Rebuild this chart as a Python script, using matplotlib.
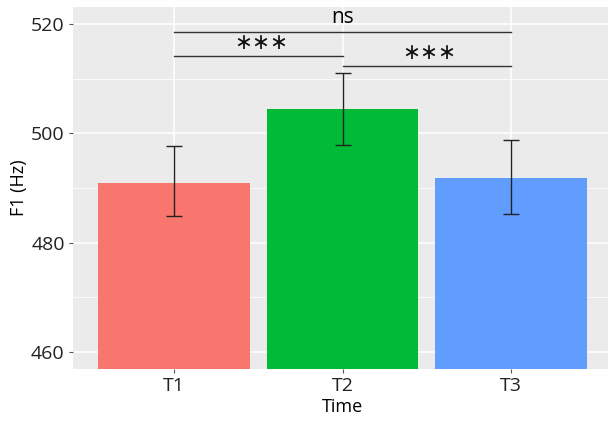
import matplotlib.pyplot as plt
import numpy as np

plt.rcParams['font.family'] = ['Open Sans', 'DejaVu Sans']

times = ['T1', 'T2', 'T3']
f1_mean = [491.0, 504.4, 491.8]
f1_low = [484.9, 497.9, 485.3]
f1_high = [497.7, 511.0, 498.8]
colors = ['#F8766D', '#00BA38', '#619CFF']

# significance brackets: (from, to, height, label)
sig_pairs = [(0, 1, 514.1, '***'), (1, 2, 512.4, '***'), (0, 2, 518.6, 'ns')]

fig = plt.figure(figsize=(6.08, 4.21), dpi=100)
ax = fig.add_axes([73 / 608, 52 / 421, 539 / 608, 362 / 421])
ax.set_facecolor('#EBEBEB')

x = np.arange(len(times))
mean = np.array(f1_mean)
yerr = [mean - np.array(f1_low), np.array(f1_high) - mean]

ax.bar(x, mean - 440, bottom=440, width=0.9, color=colors, zorder=2)
ax.errorbar(x, mean, yerr=yerr, fmt='none', ecolor='#222222', elinewidth=1.0,
            capsize=6, capthick=1.0, zorder=3)

for a, b, h, lab in sig_pairs:
    mid = (a + b) / 2
    ax.plot([a, b], [h, h], color='#333333', lw=1.0, zorder=3)
    if lab == 'ns':
        ax.text(mid, h + 0.6, lab, ha='center', va='bottom', fontsize=15)
    else:
        stars = lab.replace('*', '\u2217')
        ax.annotate(stars, xy=(mid, h), xytext=(3, 13),
                    textcoords='offset pixels', ha='center', va='center',
                    fontsize=15.5, family='DejaVu Sans', color='#111111')

ax.set_xlim(-0.6, 2.6)
ax.set_ylim(456.9, 523.1)
ax.set_xticks(x)
ax.set_xticklabels(times)
ax.set_yticks([460, 480, 500, 520])
ax.set_yticks([470, 490, 510], minor=True)
ax.grid(which='major', color='white', lw=1.1, zorder=0)
ax.grid(which='minor', axis='y', color='white', lw=0.55, zorder=0)
ax.set_axisbelow(True)
for s in ax.spines.values():
    s.set_visible(False)
ax.tick_params(which='major', length=3, color='#555555', labelsize=14, pad=3,
               labelcolor='#222222')
ax.tick_params(which='minor', length=0)
ax.set_xlabel('Time', fontsize=13, labelpad=2)
ax.set_ylabel('F1 (Hz)', fontsize=13, labelpad=2)

fig.savefig('out.png', dpi=100)
